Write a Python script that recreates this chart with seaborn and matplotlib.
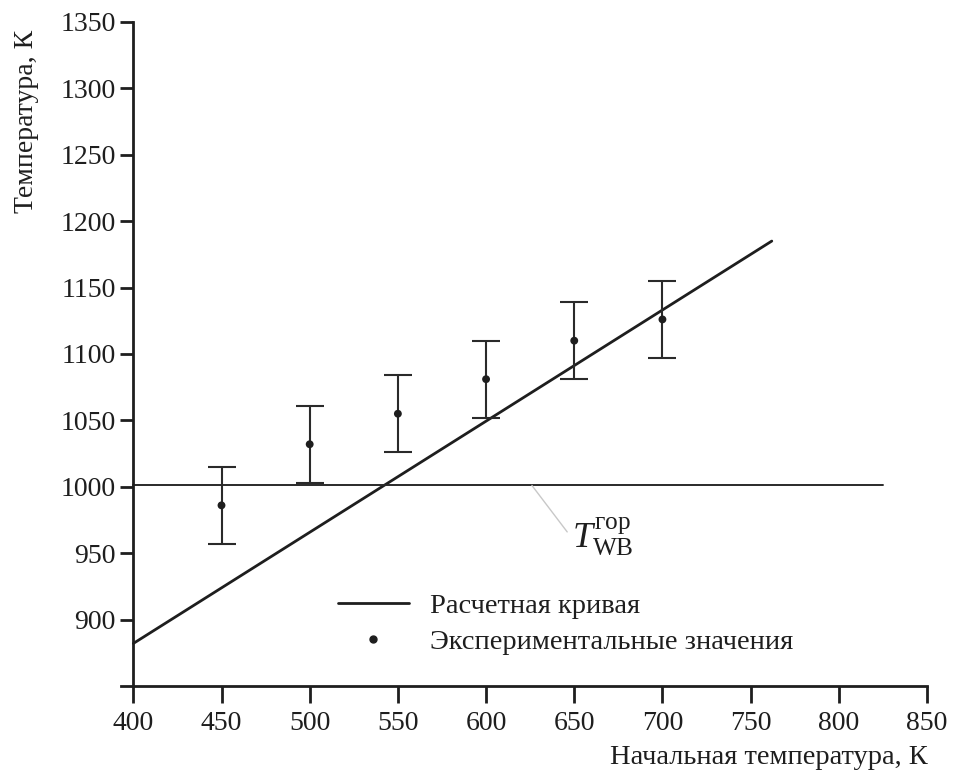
import matplotlib
matplotlib.use("Agg")
import matplotlib.pyplot as plt
import seaborn as sns
import pandas as pd
from matplotlib.lines import Line2D

# Data
calc_x = [400, 762]
calc_y = [882, 1185]
exp_x = [450, 500, 550, 600, 650, 700]
exp_y = [986, 1032, 1055, 1081, 1110, 1126]
exp_err = [29, 29, 29, 29, 29, 29]
t_wb = 1001
t_wb_x = [400, 825]

x_ticks = [400, 450, 500, 550, 600, 650, 700, 750, 800, 850]
y_ticks = [900, 950, 1000, 1050, 1100, 1150, 1200, 1250, 1300, 1350]

sns.set_theme(style="ticks")
plt.rcParams['font.family'] = ['Liberation Serif', 'DejaVu Serif']
plt.rcParams['mathtext.fontset'] = 'custom'
plt.rcParams['mathtext.rm'] = 'Liberation Serif'
plt.rcParams['mathtext.it'] = 'Liberation Serif:italic'

fig = plt.figure(figsize=(9.54, 7.78), dpi=100)
ax = fig.add_axes([0.1268, 0.1183, 0.8449, 0.8535])

ink = '#1e1e1e'
calc_df = pd.DataFrame({'x': calc_x, 'y': calc_y})
sns.lineplot(data=calc_df, x='x', y='y', ax=ax, color=ink, lw=2.0)
ax.plot(t_wb_x, [t_wb, t_wb], color='#2a2a2a', lw=1.4)
ax.errorbar(exp_x, exp_y, yerr=exp_err, fmt='none', ecolor='#2a2a2a',
            elinewidth=1.5, capsize=10, capthick=1.5)
exp_df = pd.DataFrame({'x': exp_x, 'y': exp_y})
sns.scatterplot(data=exp_df, x='x', y='y', ax=ax, color=ink, s=32,
                edgecolor='none', zorder=5)

# annotation
ax.plot([626, 646], [1001, 966], color='#c8c8c8', lw=1.0)
ax.text(648.5, 962, r'$T_{\mathrm{WB}}^{\mathrm{гор}}$', fontsize=26,
        color=ink, ha='left', va='center')

ax.set_xlim(393, 850)
ax.set_ylim(850, 1350)
ax.set_xticks(x_ticks)
ax.set_yticks(y_ticks)
ax.spines['left'].set_position(('data', 400))
ax.spines['top'].set_visible(False)
ax.spines['right'].set_visible(False)
for s in ['left', 'bottom']:
    ax.spines[s].set_linewidth(2.0)
    ax.spines[s].set_color(ink)
ax.tick_params(axis='both', direction='out', width=2.0,
               colors=ink, labelsize=20, labelcolor=ink)
ax.tick_params(axis='y', length=9.5, pad=3)
ax.tick_params(axis='x', length=12, pad=6)
ax.set_xlabel('')
ax.set_ylabel('')

fig.text(0.028, 0.8445, 'Температура, К', rotation=90, fontsize=20,
         ha='center', va='center', color=ink)
fig.text(0.972, 0.026, 'Начальная температура, К', fontsize=20.5,
         ha='right', va='center', color=ink)

handles = [Line2D([0], [0], color=ink, lw=2.0),
           Line2D([0], [0], color=ink, marker='o', markersize=5, lw=0)]
ax.legend(handles, ['Расчетная кривая', 'Экспериментальные значения'],
          loc='upper left', bbox_to_anchor=(0.255, 0.157), frameon=False,
          fontsize=20.5, handlelength=2.5, handletextpad=0.75, labelspacing=0.35,
          borderaxespad=0, labelcolor=ink)

fig.savefig('out.png', dpi=100, facecolor='white')
